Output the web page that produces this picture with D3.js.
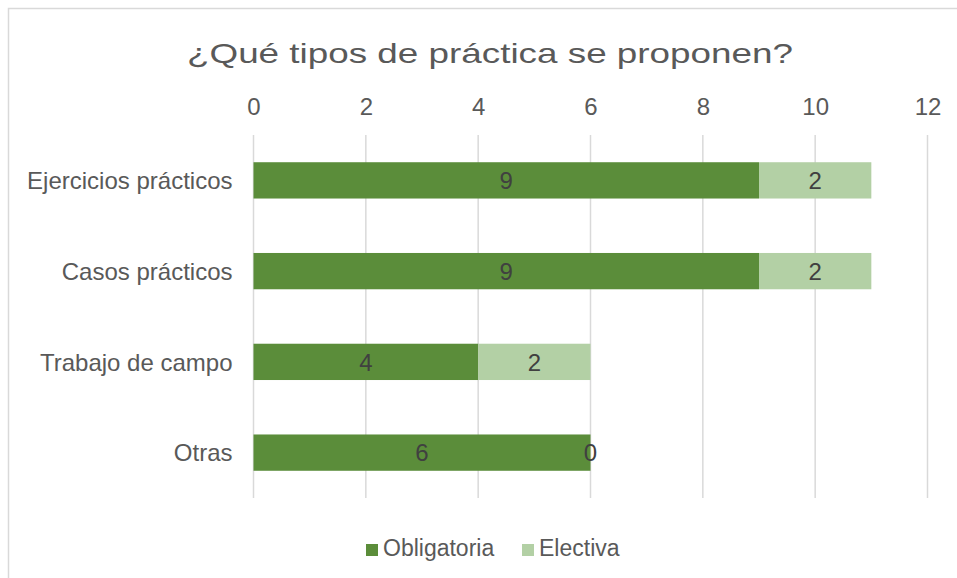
<!DOCTYPE html>
<html>
<head>
<meta charset="utf-8">
<script src="https://cdn.jsdelivr.net/npm/d3@7"></script>
<style>
  body { margin: 0; background: #fff; }
  svg text { font-family: "Liberation Sans", Arial, sans-serif; }
</style>
</head>
<body>
<div id="chart"></div>
<script>
// Data
const categories = ["Ejercicios prácticos", "Casos prácticos", "Trabajo de campo", "Otras"];
const seriesNames = ["Obligatoria", "Electiva"];
const obligatoria = [9, 9, 4, 6];
const electiva = [2, 2, 2, 0];
const xTicks = [0, 2, 4, 6, 8, 10, 12];

const width = 957;
const height = 578;
const colors = { Obligatoria: "#5b8d3a", Electiva: "#b3d0a5" };

const svg = d3.select("#chart").append("svg")
    .attr("width", width)
    .attr("height", height);

// chart area border (extends past the right and bottom edges)
svg.append("rect")
    .attr("x", 8.5).attr("y", 8.5)
    .attr("width", 1000).attr("height", 1000)
    .attr("fill", "none")
    .attr("stroke", "#d9d9d9")
    .attr("stroke-width", 1.5);

// title
svg.append("text")
    .attr("x", 490)
    .attr("y", 63)
    .attr("text-anchor", "middle")
    .attr("font-size", 28)
    .attr("fill", "#595959")
    .attr("textLength", 606)
    .attr("lengthAdjust", "spacingAndGlyphs")
    .text("¿Qué tipos de práctica se proponen?");

const x = d3.scaleLinear().domain([0, 12]).range([253.5, 927.5]);
const y = d3.scaleBand().domain(categories).range([135, 498])
    .paddingInner(0.6).paddingOuter(0.3);

// gridlines
svg.append("g")
    .selectAll("line")
    .data(xTicks)
    .enter().append("line")
    .attr("x1", d => x(d)).attr("x2", d => x(d))
    .attr("y1", 135).attr("y2", 498)
    .attr("stroke", "#d9d9d9")
    .attr("stroke-width", 1.5);

// top axis labels
const xAxis = svg.append("g")
    .attr("transform", "translate(0,135)")
    .call(d3.axisTop(x).tickValues(xTicks).tickSize(0).tickPadding(20));
xAxis.select(".domain").remove();
xAxis.selectAll("text")
    .attr("font-size", 24)
    .attr("fill", "#595959")
    .style("font-family", "'Liberation Sans', Arial, sans-serif");

// category labels
const yAxis = svg.append("g")
    .attr("transform", "translate(253.5,0)")
    .call(d3.axisLeft(y).tickSize(0).tickPadding(21));
yAxis.select(".domain").remove();
yAxis.selectAll("text")
    .attr("font-size", 24)
    .attr("fill", "#595959")
    .attr("dy", "0.36em")
    .style("font-family", "'Liberation Sans', Arial, sans-serif");

// stacked bars
const rows = categories.map((c, i) => ({ cat: c, Obligatoria: obligatoria[i], Electiva: electiva[i] }));
const stacked = d3.stack().keys(seriesNames)(rows);

const layers = svg.selectAll(".layer")
    .data(stacked)
    .enter().append("g")
    .attr("class", "layer")
    .attr("fill", d => colors[d.key]);

layers.selectAll("rect")
    .data(d => d)
    .enter().append("rect")
    .attr("x", d => x(d[0]))
    .attr("y", d => y(d.data.cat))
    .attr("width", d => x(d[1]) - x(d[0]))
    .attr("height", y.bandwidth());

// value labels
layers.selectAll("text")
    .data(d => d.map(v => ({ v, key: d.key })))
    .enter().append("text")
    .attr("x", d => x((d.v[0] + d.v[1]) / 2))
    .attr("y", d => y(d.v.data.cat) + y.bandwidth() / 2)
    .attr("dy", "0.36em")
    .attr("text-anchor", "middle")
    .attr("font-size", 24)
    .attr("fill", "#404040")
    .text(d => d.v.data[d.key]);

// legend
const legendPos = [366, 522];
const legend = svg.append("g").attr("class", "legend");
const items = legend.selectAll("g")
    .data(seriesNames)
    .enter().append("g")
    .attr("transform", (d, i) => `translate(${legendPos[i]},544)`);

items.append("rect")
    .attr("width", 12)
    .attr("height", 12)
    .attr("fill", d => colors[d]);

items.append("text")
    .attr("x", 17)
    .attr("y", 12)
    .attr("font-size", 23)
    .attr("fill", "#595959")
    .text(d => d);
</script>
</body>
</html>
